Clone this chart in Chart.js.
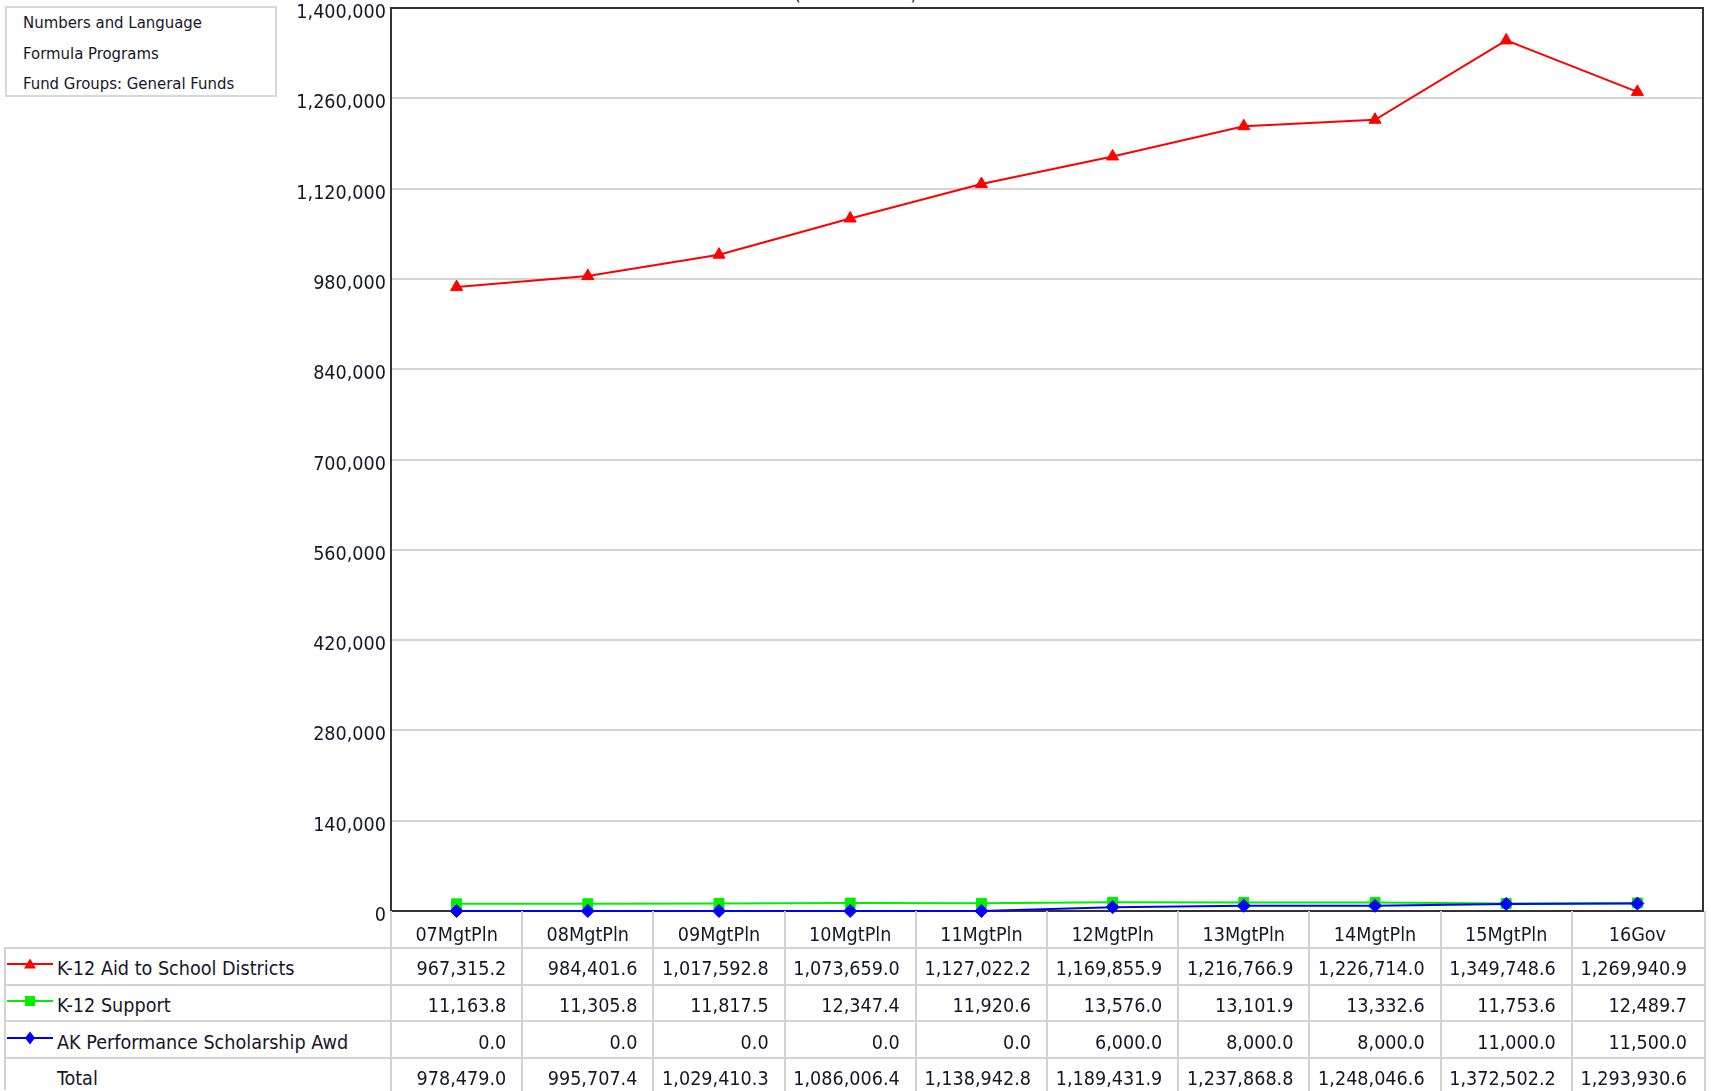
<!DOCTYPE html>
<html>
<head>
<meta charset="utf-8">
<script src="https://cdn.jsdelivr.net/npm/chart.js@4.4.0/dist/chart.umd.min.js"></script>
<style>
html,body{margin:0;padding:0;background:#fff;}
body{width:1711px;height:1091px;overflow:hidden;position:relative;font-family:'DejaVu Sans Condensed','Liberation Sans',sans-serif;color:#16162a;}
#wrap{position:absolute;left:0;top:0;width:1711px;height:947px;}
#wrap canvas{display:block;}
.hl{position:absolute;height:2px;background:#d2d2d2;}
.vl{position:absolute;width:2px;background:#d2d2d2;}
.cell{position:absolute;font-size:19.6px;line-height:22px;white-space:nowrap;}
#info{position:absolute;left:5px;top:6px;width:272px;height:91px;border:2px solid #d8d8d8;box-sizing:border-box;background:#fff;}
#info div{position:absolute;left:16px;font-size:16.6px;line-height:20px;white-space:nowrap;}
#title{position:absolute;top:-18px;left:0;width:1711px;text-align:center;font-size:19px;line-height:22px;}
svg.glyph{position:absolute;}
</style>
</head>
<body>
<div id="title">(in thousands)</div>
<div id="wrap"><canvas id="c" width="1711" height="947"></canvas></div>
<div id="info"></div>
<div id="table"></div>
<script>
// ---- data ----
const categories = ['07MgtPln','08MgtPln','09MgtPln','10MgtPln','11MgtPln','12MgtPln','13MgtPln','14MgtPln','15MgtPln','16Gov'];
const seriesNames = ['K-12 Aid to School Districts','K-12 Support','AK Performance Scholarship Awd'];
const aidValues = [967315.2, 984401.6, 1017592.8, 1073659.0, 1127022.2, 1169855.9, 1216766.9, 1226714.0, 1349748.6, 1269940.9];
const supportValues = [11163.8, 11305.8, 11817.5, 12347.4, 11920.6, 13576.0, 13101.9, 13332.6, 11753.6, 12489.7];
const scholarshipValues = [0, 0, 0, 0, 0, 6000, 8000, 8000, 11000, 11500];
const totalValues = [978479.0, 995707.4, 1029410.3, 1086006.4, 1138942.8, 1189431.9, 1237868.8, 1248046.6, 1372502.2, 1293930.6];
const totalLabel = 'Total';
const yMin = 0, yMax = 1400000, yStep = 140000;
const infoLines = ['Numbers and Language','Formula Programs','Fund Groups: General Funds'];

// ---- styling ----
const FONT = "'DejaVu Sans Condensed', 'Liberation Sans', sans-serif";
const TEXT = '#16162a';
const seriesColors = ['#ff0000','#00ee00','#0000ff'];
const seriesPoints = ['triangle','rect','rectRot'];
const seriesRadius = [7, 7, 6.5];
const seriesData = [aidValues, supportValues, scholarshipValues];

const framePlugin = {
  id:'frame',
  afterDraw(chart){
    const a = chart.chartArea, c = chart.ctx;
    c.save();
    c.strokeStyle = '#333';
    c.lineWidth = 2;
    c.beginPath();
    c.moveTo(a.left, a.top);
    c.lineTo(a.right, a.top);
    c.lineTo(a.right, a.bottom);
    c.stroke();
    c.restore();
  }
};

const chart = new Chart(document.getElementById('c').getContext('2d'), {
  type:'line',
  data:{
    labels:categories,
    datasets: seriesNames.map((n,i)=>({
      label:n,
      data:seriesData[i],
      borderColor:seriesColors[i],
      backgroundColor:seriesColors[i],
      borderWidth:2,
      pointStyle:seriesPoints[i],
      pointRadius:seriesRadius[i],
      pointBorderWidth:1,
      tension:0,
      order:2-i,
      clip:false
    }))
  },
  options:{
    responsive:false,
    animation:false,
    devicePixelRatio:1,
    layout:{padding:{top:5,right:6,left:0,bottom:0}},
    plugins:{legend:{display:false},tooltip:{enabled:false}},
    scales:{
      x:{
        type:'category',
        offset:true,
        grid:{display:false,drawTicks:false},
        border:{display:true,color:'#333',width:2},
        ticks:{font:{family:FONT,size:19.6},color:TEXT,padding:13,maxRotation:0,autoSkip:false},
        afterFit(s){ s.height = 36; s.paddingLeft = 0; s.paddingRight = 0; }
      },
      y:{
        min:yMin,max:yMax,
        grid:{color:'#d4d4d4',lineWidth:2,drawTicks:false},
        border:{display:true,color:'#333',width:2},
        ticks:{stepSize:yStep,font:{family:FONT,size:19.6},color:TEXT,padding:5,labelOffset:5,
               callback:v=>Number(v).toLocaleString('en-US')},
        afterFit(s){ s.width = 391; s.paddingTop = 0; s.paddingBottom = 0; }
      }
    }
  },
  plugins:[framePlugin]
});

// ---- info box ----
const info = document.getElementById('info');
infoLines.forEach((t,i)=>{
  const d = document.createElement('div');
  d.textContent = t;
  d.style.top = (5 + i*30.5) + 'px';
  info.appendChild(d);
});

// ---- data table under the chart, aligned to the x scale ----
const tbl = document.getElementById('table');
const xs = chart.scales.x, area = chart.chartArea;
const colW = (area.right - area.left) / categories.length;
const headTop = area.bottom;
const rowH = 36.6;
const tableTop = headTop + 37;
const tableBottom = 1091;
const tableLeft = 5;
const tableRight = area.right + 2;
function addLine(cls, x, y, len){
  const d = document.createElement('div');
  d.className = cls;
  d.style.left = x + 'px';
  d.style.top = y + 'px';
  if(cls==='hl') d.style.width = len + 'px'; else d.style.height = len + 'px';
  tbl.appendChild(d);
}
for(let i=0;i<=categories.length;i++){
  const x = (i===categories.length ? tableRight : xs.getPixelForTick(i) - colW/2) - 1;
  addLine('vl', x, headTop, tableBottom - headTop);
}
addLine('vl', tableLeft - 1, tableTop - 1, tableBottom - tableTop);
for(let r=0;r<4;r++){
  addLine('hl', tableLeft - 1, tableTop + r*rowH - 1, tableRight - tableLeft + 2);
}
const rows = [
  {name:seriesNames[0], vals:aidValues, color:seriesColors[0], pt:seriesPoints[0]},
  {name:seriesNames[1], vals:supportValues, color:seriesColors[1], pt:seriesPoints[1]},
  {name:seriesNames[2], vals:scholarshipValues, color:seriesColors[2], pt:seriesPoints[2]},
  {name:totalLabel, vals:totalValues, color:null}
];
const fmt = v => v.toLocaleString('en-US',{minimumFractionDigits:1,maximumFractionDigits:1});
function glyph(color, pt){
  let m = '';
  if(pt==='triangle') m = `<polygon points="24,3.5 30,13.5 18,13.5" fill="${color}"/>`;
  else if(pt==='rect') m = `<rect x="19" y="4" width="10" height="10" fill="${color}"/>`;
  else m = `<polygon points="24,2.5 29,9 24,15.5 19,9" fill="${color}"/>`;
  return `<svg class="glyph" width="48" height="18" viewBox="0 0 48 18"><line x1="1" y1="9" x2="47" y2="9" stroke="${color}" stroke-width="2"/>${m}</svg>`;
}
rows.forEach((row,r)=>{
  const top = tableTop + r*rowH;
  const cy = top + rowH/2;
  if(row.color){
    const g = document.createElement('div');
    g.innerHTML = glyph(row.color,row.pt);
    const s = g.firstChild;
    s.style.left = '6px';
    s.style.top = (cy - 11) + 'px';
    tbl.appendChild(s);
  }
  const lab = document.createElement('div');
  lab.className = 'cell';
  lab.textContent = row.name;
  lab.style.left = '57px';
  lab.style.top = (cy - 8) + 'px';
  tbl.appendChild(lab);
  row.vals.forEach((v,i)=>{
    const c = document.createElement('div');
    c.className = 'cell';
    c.textContent = fmt(v);
    const right = xs.getPixelForTick(i) + colW/2;
    c.style.right = (1711 - right + 16) + 'px';
    c.style.top = (cy - 8) + 'px';
    tbl.appendChild(c);
  });
});
</script>
</body>
</html>
